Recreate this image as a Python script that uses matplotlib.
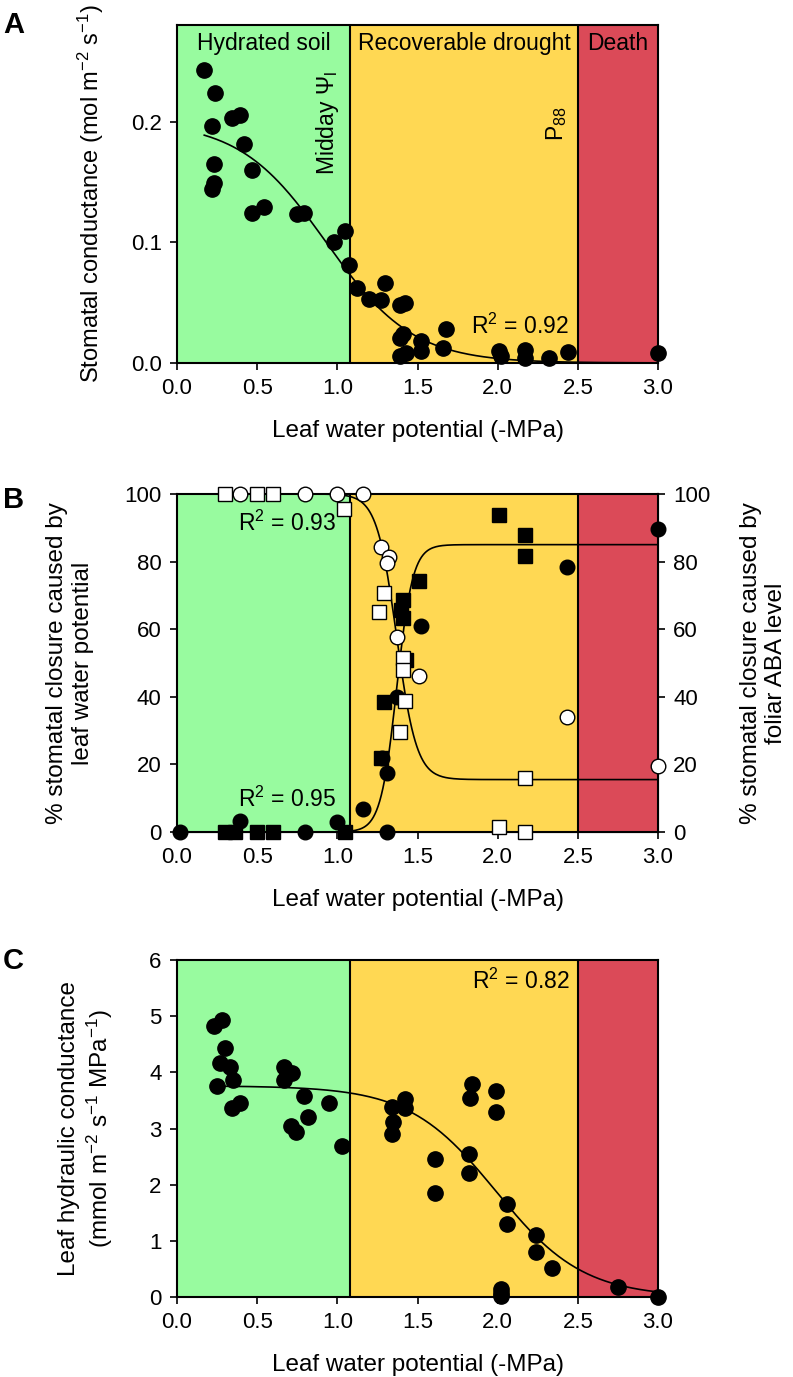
import numpy as np
import matplotlib
matplotlib.use('Agg')
import matplotlib.pyplot as plt

plt.rcParams['font.family'] = ['Liberation Sans', 'DejaVu Sans']
plt.rcParams['mathtext.fontset'] = 'custom'
plt.rcParams['mathtext.rm'] = 'Liberation Sans'
plt.rcParams['mathtext.it'] = 'Liberation Sans:italic'
plt.rcParams['mathtext.bf'] = 'Liberation Sans:bold'

# zones along the leaf water potential axis (-MPa)
ZONE_EDGES = [0.0, 1.08, 2.5, 3.0]
ZONE_NAMES = ['Hydrated soil', 'Recoverable drought', 'Death']
ZONE_COLORS = ['#98fb9f', '#ffd853', '#db4a58']

# panel A: stomatal conductance
gs_psi = [0.17, 0.24, 0.22, 0.34, 0.39, 0.42, 0.23, 0.23, 0.22, 0.47, 0.47, 0.54,
          0.75, 0.79, 0.98, 1.05, 1.07, 1.12, 1.20, 1.27, 1.30, 1.39, 1.42, 1.39,
          1.41, 1.39, 1.43, 1.52, 1.52, 1.66, 1.68, 2.01, 2.02, 2.17, 2.17, 2.32,
          2.44, 3.00]
gs = [0.243, 0.224, 0.196, 0.203, 0.205, 0.181, 0.165, 0.149, 0.144, 0.160, 0.124, 0.129,
      0.123, 0.124, 0.100, 0.109, 0.081, 0.062, 0.053, 0.052, 0.066, 0.048, 0.050, 0.021,
      0.024, 0.006, 0.008, 0.018, 0.010, 0.012, 0.028, 0.010, 0.006, 0.011, 0.004, 0.004,
      0.009, 0.008]
gs_fit = {'top': 0.2, 'bottom': 0.0, 'mid': 0.93, 'slope': 0.27, 'start': 0.17}

# panel B: % closure, open = caused by leaf water potential, filled = caused by ABA
open_sq_psi = [0.30, 0.50, 0.60, 1.04, 1.29, 1.26, 1.41, 1.41, 1.42, 1.39, 2.17, 2.01, 2.17]
open_sq = [100, 100, 100, 95.5, 70.8, 65, 51.6, 48, 38.6, 29.7, 16.1, 1.5, 0]
open_ci_psi = [0.39, 0.80, 1.00, 1.16, 1.27, 1.32, 1.31, 1.37, 1.51, 2.43, 3.00]
open_ci = [100, 100, 100, 100, 84.2, 81.3, 79.5, 57.7, 46.1, 34, 19.6]
fill_sq_psi = [0.30, 0.36, 0.50, 0.60, 1.05, 2.01, 2.17, 2.17, 1.51, 1.41, 1.40, 1.41,
               1.43, 1.29, 1.27]
fill_sq = [0, 0, 0, 0, 0, 93.9, 87.9, 81.7, 74.3, 68.6, 65.6, 63.2, 50.8, 38.4, 21.9]
fill_ci_psi = [0.02, 0.39, 0.80, 1.00, 1.16, 1.31, 1.28, 1.37, 1.52, 2.43, 1.31, 3.00]
fill_ci = [0, 3.3, 0, 3.1, 6.7, 17.4, 22, 39.9, 61, 78.5, 0, 89.6]
psi_fit = {'top': 100, 'bottom': 15.5, 'mid': 1.37, 'slope': 0.062, 'start': 0.0}
aba_fit = {'top': 0.0, 'bottom': 85.0, 'mid': 1.37, 'slope': 0.05, 'start': 0.0}

# panel C: leaf hydraulic conductance
kleaf_psi = [0.23, 0.28, 0.30, 0.27, 0.33, 0.35, 0.25, 0.34, 0.39, 0.67, 0.72, 0.67,
             0.79, 0.95, 0.82, 0.71, 0.74, 1.03, 1.34, 1.42, 1.42, 1.35, 1.34, 1.61,
             1.61, 1.84, 1.83, 1.99, 1.99, 1.82, 1.82, 2.06, 2.06, 2.24, 2.24, 2.34,
             2.02, 2.02, 2.02, 2.75, 3.00]
kleaf = [4.82, 4.93, 4.43, 4.17, 4.10, 3.87, 3.76, 3.36, 3.45, 4.10, 3.98, 3.86,
         3.58, 3.46, 3.21, 3.04, 2.94, 2.68, 3.39, 3.52, 3.36, 3.12, 2.90, 2.46,
         1.86, 3.80, 3.54, 3.66, 3.29, 2.54, 2.20, 1.66, 1.30, 1.10, 0.81, 0.51,
         0.15, 0.08, 0.02, 0.18, 0.00]
kleaf_fit = {'top': 3.76, 'bottom': 0.0, 'mid': 1.99, 'slope': 0.272, 'start': 0.27}

R2_GS = 'R$^2$ = 0.92'
R2_PSI = 'R$^2$ = 0.93'
R2_ABA = 'R$^2$ = 0.95'
R2_KLEAF = 'R$^2$ = 0.82'
XLABEL = 'Leaf water potential (-MPa)'

TICK_FS = 16
LABEL_FS = 17.5
TEXT_FS = 16.5


def sigmoid(x, p):
    return p['bottom'] + (p['top'] - p['bottom']) / (1 + np.exp((x - p['mid']) / p['slope']))


def setup_axes(ax, ylim, yticks, yfmt):
    for i in range(3):
        ax.axvspan(ZONE_EDGES[i], ZONE_EDGES[i + 1], color=ZONE_COLORS[i], zorder=0, lw=0)
    for edge in ZONE_EDGES[1:3]:
        ax.axvline(edge, color='black', lw=1.5, zorder=1)
    ax.set_xlim(0, 3)
    ax.set_ylim(*ylim)
    ax.set_xticks(np.arange(0, 3.01, 0.5))
    ax.set_xticklabels(['%.1f' % t for t in np.arange(0, 3.01, 0.5)])
    ax.set_yticks(yticks)
    ax.set_yticklabels([yfmt % t for t in yticks])
    ax.tick_params(direction='out', length=5, width=1.2, labelsize=TICK_FS, pad=6)
    for s in ax.spines.values():
        s.set_linewidth(1.5)
    ax.set_xlabel(XLABEL, fontsize=LABEL_FS)
    ax.xaxis.set_label_coords(0.5, -0.17)


def fit_line(ax, p):
    xs = np.linspace(p['start'], 3.0, 300)
    ax.plot(xs, sigmoid(xs, p), color='black', lw=1.2, zorder=2)


def dots(ax, x, y, marker='o', face='black', ms=11):
    ax.plot(x, y, ls='none', marker=marker, ms=ms, mfc=face, mec='black', mew=1.0,
            zorder=5, clip_on=False)


fig = plt.figure(figsize=(7.93, 13.77), dpi=100)
L, W, H = 0.2232, 0.6066, 0.2455

# A
axA = fig.add_axes([L, 0.7364, W, H])
setup_axes(axA, (0, 0.28), [0.0, 0.1, 0.2], '%.1f')
for i in range(3):
    axA.text((ZONE_EDGES[i] + ZONE_EDGES[i + 1]) / 2, 0.265, ZONE_NAMES[i],
             ha='center', va='center', fontsize=TEXT_FS)
axA.text(0.94, 0.199, 'Midday Ψ$_\\mathregular{l}$', rotation=90, ha='center',
         va='center', fontsize=TEXT_FS)
axA.text(2.37, 0.198, 'P$_\\mathregular{88}$', rotation=90, ha='center',
         va='center', fontsize=TEXT_FS)
fit_line(axA, gs_fit)
dots(axA, gs_psi, gs)
axA.text(2.44, 0.030, R2_GS, ha='right', va='center', fontsize=TEXT_FS)
axA.set_ylabel('Stomatal conductance (mol m$^{-2}$ s$^{-1}$)', fontsize=17)
axA.yaxis.set_label_coords(-0.148, 0.5)

# B
axB = fig.add_axes([L, 0.3958, W, H])
setup_axes(axB, (0, 100), list(range(0, 101, 20)), '%d')
fit_line(axB, psi_fit)
fit_line(axB, aba_fit)
dots(axB, fill_ci_psi, fill_ci, 'o', 'black', 10.5)
dots(axB, fill_sq_psi, fill_sq, 's', 'black', 10)
dots(axB, open_ci_psi, open_ci, 'o', 'white', 10.5)
dots(axB, open_sq_psi, open_sq, 's', 'white', 10)
axB.text(0.99, 91.4, R2_PSI, ha='right', va='center', fontsize=TEXT_FS)
axB.text(0.99, 9.8, R2_ABA, ha='right', va='center', fontsize=TEXT_FS)
axB.set_ylabel('% stomatal closure caused by\nleaf water potential', fontsize=LABEL_FS)
axB.yaxis.set_label_coords(-0.173, 0.5)
axB2 = axB.twinx()
axB2.set_ylim(0, 100)
axB2.set_yticks(list(range(0, 101, 20)))
axB2.tick_params(direction='out', length=5, width=1.2, labelsize=TICK_FS, pad=6)
axB2.spines['right'].set_linewidth(1.5)
axB2.set_ylabel('% stomatal closure caused by\nfoliar ABA level', fontsize=LABEL_FS)
axB2.yaxis.set_label_coords(1.17, 0.5)
axB.set_zorder(axB2.get_zorder() + 1)

# C
axC = fig.add_axes([L, 0.0581, W, 0.2447])
setup_axes(axC, (0, 6), list(range(0, 7)), '%d')
fit_line(axC, kleaf_fit)
dots(axC, kleaf_psi, kleaf)
axC.text(2.45, 5.63, R2_KLEAF, ha='right', va='center', fontsize=TEXT_FS)
axC.set_ylabel('Leaf hydraulic conductance\n(mmol m$^{-2}$ s$^{-1}$ MPa$^{-1}$)', fontsize=LABEL_FS)
axC.yaxis.set_label_coords(-0.129, 0.5)

for lab, y in [('A', 0.992), ('B', 0.647), ('C', 0.312)]:
    fig.text(0.004, y, lab, fontsize=21, fontweight='bold', va='top', ha='left')

fig.savefig('out.png', dpi=100)
